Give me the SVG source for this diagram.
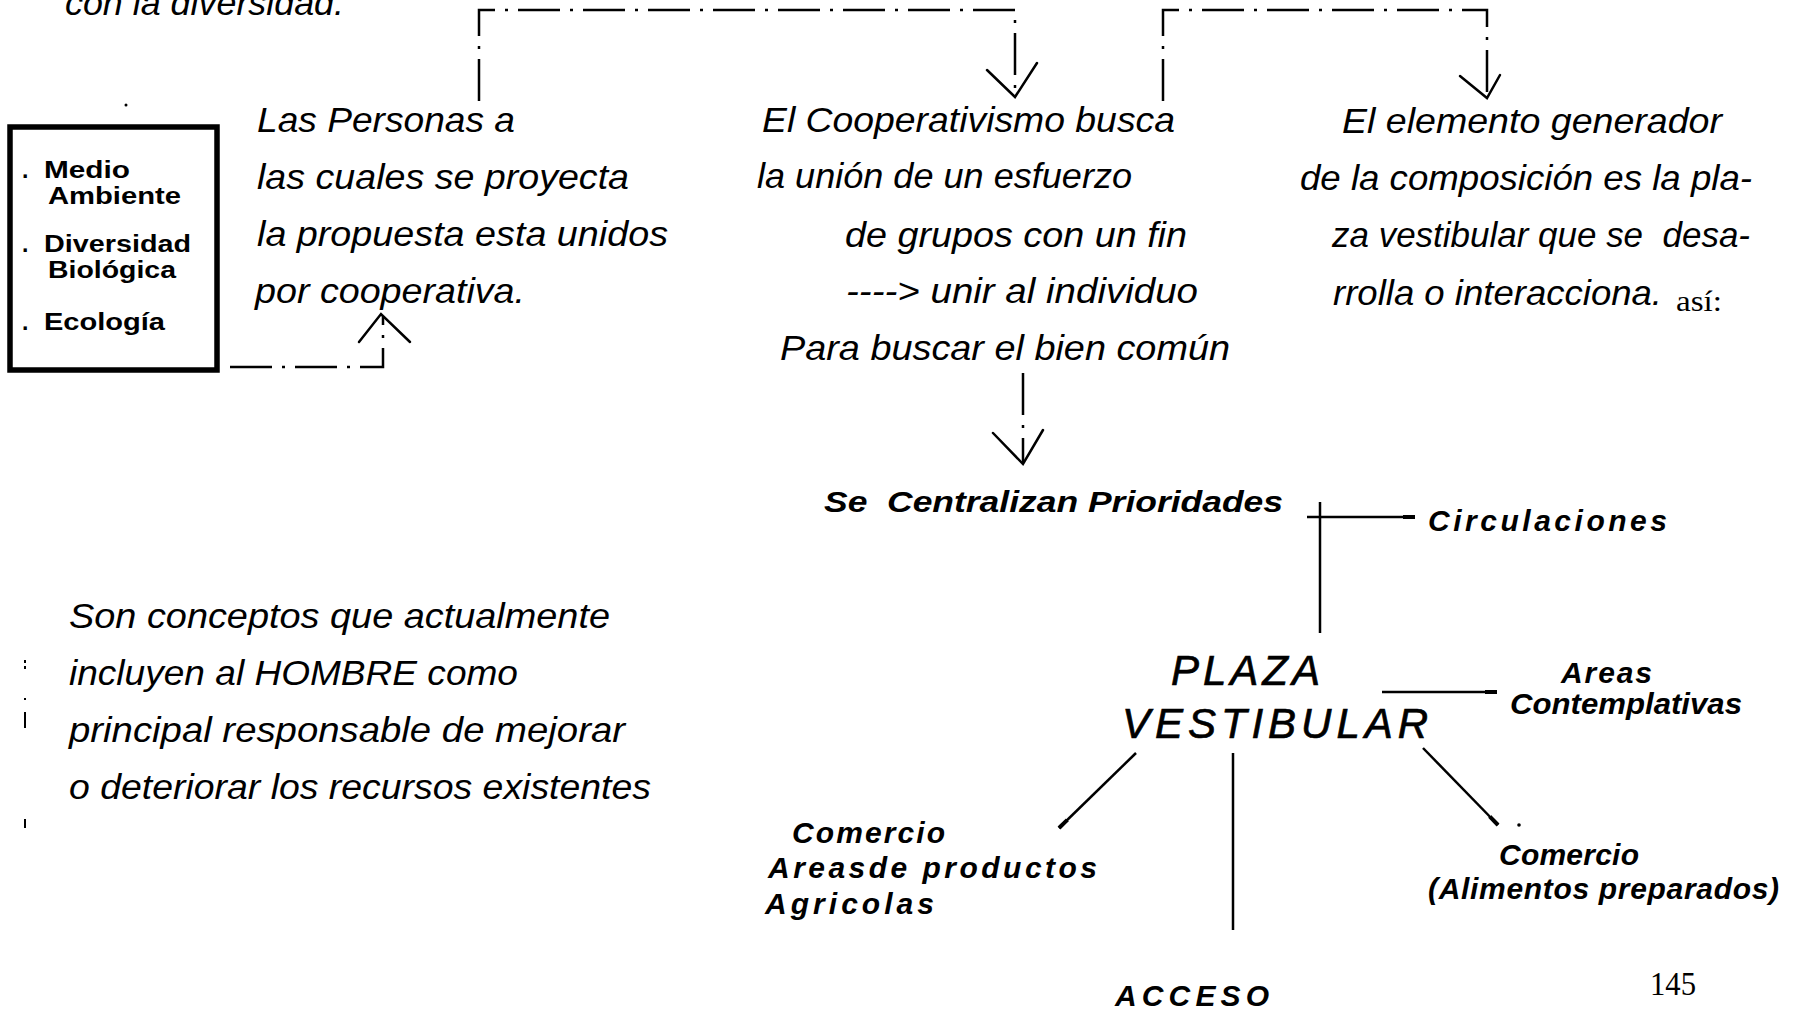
<svg xmlns="http://www.w3.org/2000/svg" width="1797" height="1012" viewBox="0 0 1797 1012">
<style>
.it{font-family:"Liberation Sans",Arial,sans-serif;font-style:italic;font-size:35px;fill:#000}
.bx{font-family:"Liberation Sans",Arial,sans-serif;font-weight:bold;font-size:23px;fill:#000}
.lb{font-family:"Liberation Sans",Arial,sans-serif;font-weight:bold;font-style:italic;font-size:30px;fill:#000}
.pl{font-family:"Liberation Sans",Arial,sans-serif;font-style:italic;font-size:42px;fill:#000;stroke:#000;stroke-width:0.7}
.sf{font-family:"Liberation Serif","Times New Roman",serif;fill:#000}
.dd{fill:none;stroke:#000;stroke-width:2.5;stroke-dasharray:42 10 3 10}
.ln{fill:none;stroke:#000;stroke-width:2.5}
.ar{fill:none;stroke:#000;stroke-width:2.5;stroke-linecap:round}
</style>
<defs>
<marker id="blob" markerUnits="userSpaceOnUse" markerWidth="14" markerHeight="8" refX="12" refY="4" orient="auto">
<path d="M0,2 L12,2 L12,6 L0,6 z" fill="#000"/>
</marker>
</defs>
<rect width="1797" height="1012" fill="#fff"/>

<g id="n-top">
<text class="it" x="65" y="15" textLength="279" lengthAdjust="spacingAndGlyphs">con la diversidad.</text>
</g>

<g id="n-box">
<rect x="10" y="127" width="207" height="243" fill="none" stroke="#000" stroke-width="5.5"/>
<text class="bx"><tspan x="22" y="178">.</tspan><tspan x="44" y="178" textLength="86" lengthAdjust="spacingAndGlyphs">Medio</tspan><tspan x="48" y="204" textLength="133" lengthAdjust="spacingAndGlyphs">Ambiente</tspan></text>
<text class="bx"><tspan x="22" y="252">.</tspan><tspan x="44" y="252" textLength="147" lengthAdjust="spacingAndGlyphs">Diversidad</tspan><tspan x="48" y="278" textLength="128" lengthAdjust="spacingAndGlyphs">Biológica</tspan></text>
<text class="bx"><tspan x="22" y="330">.</tspan><tspan x="44" y="330" textLength="121" lengthAdjust="spacingAndGlyphs">Ecología</tspan></text>
</g>

<g id="n-personas">
<text class="it" x="257" y="132" textLength="258" lengthAdjust="spacingAndGlyphs">Las Personas a</text>
<text class="it" x="257" y="189" textLength="372" lengthAdjust="spacingAndGlyphs">las cuales se proyecta</text>
<text class="it" x="257" y="246" textLength="411" lengthAdjust="spacingAndGlyphs">la propuesta esta unidos</text>
<text class="it" x="255" y="303" textLength="270" lengthAdjust="spacingAndGlyphs">por cooperativa.</text>
</g>

<g id="n-cooperativismo">
<text class="it" x="762" y="132" textLength="413" lengthAdjust="spacingAndGlyphs">El Cooperativismo busca</text>
<text class="it" x="757" y="188" textLength="375" lengthAdjust="spacingAndGlyphs">la unión de un esfuerzo</text>
<text class="it" x="845" y="247" textLength="342" lengthAdjust="spacingAndGlyphs">de grupos con un fin</text>
<text class="it" x="846" y="303" textLength="352" lengthAdjust="spacingAndGlyphs">----&gt; unir al individuo</text>
<text class="it" x="780" y="360" textLength="450" lengthAdjust="spacingAndGlyphs">Para buscar el bien común</text>
</g>

<g id="n-elemento">
<text class="it" x="1342" y="133" textLength="380" lengthAdjust="spacingAndGlyphs">El elemento generador</text>
<text class="it" x="1300" y="190" textLength="452" lengthAdjust="spacingAndGlyphs">de la composición es la pla-</text>
<text class="it" x="1332" y="247" textLength="418" lengthAdjust="spacingAndGlyphs" style="white-space:pre">za vestibular que se  desa-</text>
<text class="it" x="1333" y="305" textLength="329" lengthAdjust="spacingAndGlyphs">rrolla o interacciona.</text>
<text class="sf" x="1676" y="311" font-size="30" textLength="46" lengthAdjust="spacingAndGlyphs">así:</text>
</g>

<g id="n-conceptos">
<text class="it" x="69" y="628" textLength="541" lengthAdjust="spacingAndGlyphs">Son conceptos que actualmente</text>
<text class="it" x="69" y="685" textLength="449" lengthAdjust="spacingAndGlyphs">incluyen al HOMBRE como</text>
<text class="it" x="69" y="742" textLength="556" lengthAdjust="spacingAndGlyphs">principal responsable de mejorar</text>
<text class="it" x="69" y="799" textLength="582" lengthAdjust="spacingAndGlyphs">o deteriorar los recursos existentes</text>
</g>

<g id="n-centralizan">
<text class="lb" x="824" y="512" font-size="34" textLength="459" lengthAdjust="spacingAndGlyphs" style="white-space:pre">Se  Centralizan Prioridades</text>
</g>
<g id="n-circulaciones">
<text class="lb" x="1428" y="531" font-size="32" textLength="239" lengthAdjust="spacing">Circulaciones</text>
</g>
<g id="n-plaza">
<text class="pl" x="1171" y="685" textLength="149" lengthAdjust="spacing">PLAZA</text>
<text class="pl" x="1122" y="738" textLength="306" lengthAdjust="spacing">VESTIBULAR</text>
</g>
<g id="n-areas">
<text class="lb" x="1561" y="683" font-size="31" textLength="91" lengthAdjust="spacing">Areas</text>
<text class="lb" x="1510" y="714" font-size="31" textLength="232" lengthAdjust="spacingAndGlyphs">Contemplativas</text>
</g>
<g id="n-comercio1">
<text class="lb" x="792" y="843" font-size="31" textLength="153" lengthAdjust="spacing">Comercio</text>
<text class="lb" x="768" y="878" font-size="31" textLength="329" lengthAdjust="spacing">Areasde productos</text>
<text class="lb" x="765" y="914" font-size="31" textLength="169" lengthAdjust="spacing">Agricolas</text>
</g>
<g id="n-comercio2">
<text class="lb" x="1499" y="865" font-size="31" textLength="140" lengthAdjust="spacing">Comercio</text>
<text class="lb" x="1428" y="899" font-size="31" textLength="351" lengthAdjust="spacing">(Alimentos preparados)</text>
</g>
<g id="n-acceso">
<text class="lb" x="1115" y="1006" font-size="33" textLength="154" lengthAdjust="spacing">ACCESO</text>
</g>
<g id="n-page">
<text class="sf" x="1650" y="995" font-size="34" textLength="46" lengthAdjust="spacingAndGlyphs">145</text>
</g>

<g id="connectors">
<path class="dd" d="M230,367 H383 V316"/>
<path class="ar" d="M359,342 L381,314 L410,342"/>
<path class="dd" d="M479,101 V10 H1015 V97"/>
<path class="ar" d="M987,70 L1015,97 L1037,63"/>
<path class="dd" d="M1163,101 V10 H1487 V98"/>
<path class="ar" d="M1460,76 L1487,98 L1500,75"/>
<path class="dd" d="M1023,373 V462"/>
<path class="ar" d="M993,433 L1023,464 L1043,430"/>
<path class="ln" d="M1320,502 V633"/>
<path class="ln" d="M1307,517 H1415" marker-end="url(#blob)"/>
<path class="ln" d="M1382,692 H1497" marker-end="url(#blob)"/>
<path class="ln" d="M1136,753 L1059,828" marker-end="url(#blob)"/>
<path class="ln" d="M1233,753 V930"/>
<path class="ln" d="M1423,748 L1498,825" marker-end="url(#blob)"/>
<circle cx="1519" cy="825" r="1.8" fill="#000"/>
</g>

<g id="marks" fill="#000">
<circle cx="126" cy="105" r="1.5"/>
<rect x="24" y="660" width="2" height="3"/>
<rect x="24" y="666" width="2" height="3"/>
<rect x="24" y="698" width="2" height="2"/>
<rect x="24" y="712" width="2" height="16"/>
<rect x="24" y="819" width="2" height="9"/>
</g>
</svg>
